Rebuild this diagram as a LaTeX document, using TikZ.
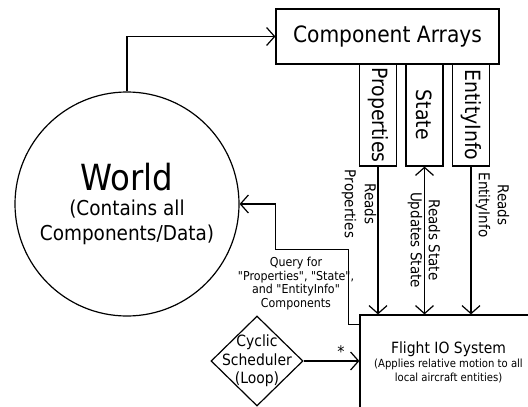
\documentclass[tikz,border=0pt]{standalone}
\usepackage{fontspec}
\setmainfont{DejaVu Sans Condensed}
\usetikzlibrary{arrows.meta,shapes.geometric}

\begin{document}
\begin{tikzpicture}[x=1pt,y=-1pt,line width=1.2pt,
        box/.style={draw,inner sep=0pt},
        arr/.style={-{Straight Barb[length=8pt,width=18pt]}},
        darr/.style={{Straight Barb[length=8pt,width=18pt]}-{Straight Barb[length=8pt,width=18pt]}},
        part/.style={box,rotate=-90,minimum width=102pt,minimum height=37pt,font=\fontsize{21}{25}\selectfont},
        lbl/.style={rotate=-90,align=center,inner sep=0pt}]
        \useasboundingbox (0,0) rectangle (528,407);
        \clip (0,0) rectangle (528,407);
        \node[draw,circle,minimum size=224pt,inner sep=0pt,align=center,font=\fontsize{20.5}{25}\selectfont] (W) at (127,204)
            {{\fontsize{36}{36}\selectfont World}\\(Contains all\\Components/Data)};
        \node[box,minimum width=223pt,minimum height=55pt,font=\fontsize{22.5}{26}\selectfont] (CA) at (387.5,36.5) {Component Arrays};
        \node[part] (A1) at (378,115) {Properties};
        \node[part] (A2) at (424.5,115) {State};
        \node[part] (A3) at (471,115) {EntityInfo};
        \node[box,minimum width=177pt,minimum height=94pt,align=center,font=\fontsize{11.2}{14}\selectfont] (FS) at (448.5,362)
            {{\fontsize{15.5}{18}\selectfont Flight IO System}\\(Applies relative motion to all\\local aircraft entities)};
        \node[draw,diamond,minimum width=92pt,minimum height=90pt,inner sep=0pt] (CS) at (257,361) {};
        \node[align=center,inner sep=0pt,font=\fontsize{15.5}{18.5}\selectfont] (CT) at (CS) {Cyclic\\Scheduler\\(Loop)};
        % labels
        \node[align=center,inner sep=0pt,font=\fontsize{12.3}{13.6}\selectfont] (Q) at (296,283.5)
            {Query for\\\textquotedbl Properties\textquotedbl, \textquotedbl State\textquotedbl,\\and \textquotedbl EntityInfo\textquotedbl\\Components};
        \node[lbl,font=\fontsize{15}{20}\selectfont] (L1) at (359,204) {Reads\\Properties};
        \node[lbl,font=\fontsize{15}{18}\selectfont] (L2) at (424,240) {Reads State\\Updates State};
        \node[lbl,font=\fontsize{15}{19}\selectfont] (L3) at (492.5,205) {Reads\\EntityInfo};
        % connectors
        \draw[arr] (W.north) |- (CA.west);
        \draw[arr] ([yshift=-10pt]FS.north west) -- ++(-11,0) -- ++(0,-75) -- ++(-73,0) |- (W.east);
        \path
        (A1.east) edge[arr] (A1.east |- FS.north)
        (A2.east) edge[darr] (A2.east |- FS.north)
        (A3.east) edge[arr] (A3.east |- FS.north)
        (CS.east) edge[arr] node[pos=0.67,above,font=\fontsize{16}{16}\selectfont] {*} (CS.east -| FS.west);
    \end{tikzpicture}
\end{document}
